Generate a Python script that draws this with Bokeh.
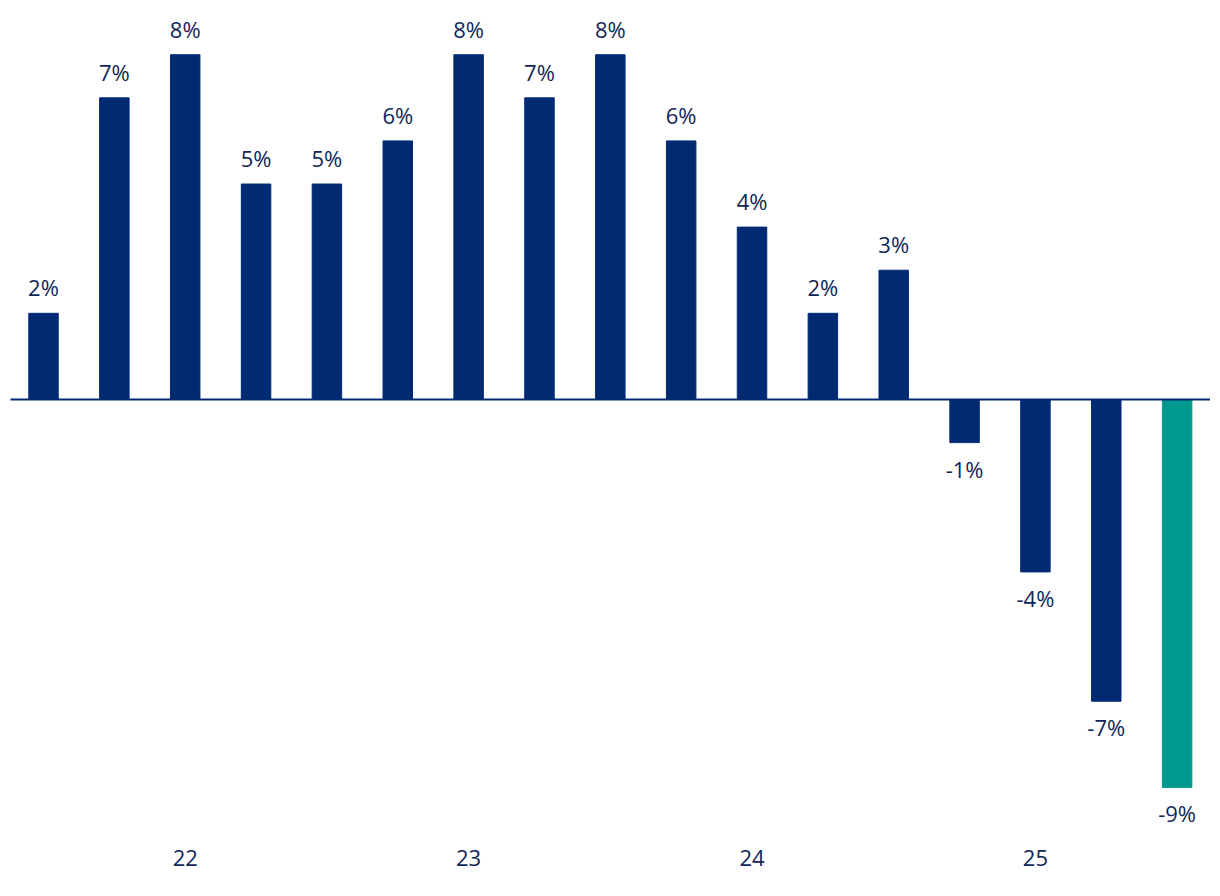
from bokeh.plotting import figure
from bokeh.models import ColumnDataSource, Range1d
from bokeh.core.properties import value
from bokeh.embed import file_html
from bokeh.resources import INLINE

values = [2, 7, 8, 5, 5, 6, 8, 7, 8, 6, 4, 2, 3, -1, -4, -7, -9]
labels = [f"{v}%" for v in values]
year_labels = ["22", "23", "24", "25"]
year_positions = [2, 6, 10, 14]

NAVY = "#002B73"
TEAL = "#00998F"
TEXT = "#102658"

x = list(range(len(values)))
colors = [NAVY] * (len(values) - 1) + [TEAL]
offsets = [-26 if v >= 0 else 26 for v in values]

src = ColumnDataSource(dict(x=x, top=values, color=colors, label=labels, yoff=offsets))

p = figure(width=1210, height=880, output_backend="svg", toolbar_location=None,
           x_range=Range1d(-0.607, 16.471), y_range=Range1d(-11.16, 9.258),
           min_border=0, min_border_left=0, min_border_right=0,
           min_border_top=0, min_border_bottom=0)
p.axis.visible = False
p.grid.visible = False
p.outline_line_color = None
p.background_fill_color = "white"
p.border_fill_color = "white"

p.vbar(x="x", top="top", bottom=0, width=0.416, color="color", source=src)
p.segment(x0=[-0.466], x1=[16.471], y0=[0], y1=[0], line_color=NAVY, line_width=2)

p.text(x="x", y="top", text="label", y_offset="yoff", source=src,
       text_align="center", text_baseline="middle", text_color=TEXT,
       text_font=value("Open Sans"), text_font_size="22px")

p.text(x=year_positions, y=[-10.64] * len(year_positions), text=year_labels,
       text_align="center", text_baseline="middle", text_color=TEXT,
       text_font=value("Open Sans"), text_font_size="22px")

open("out.html", "w").write(file_html(p, INLINE))
